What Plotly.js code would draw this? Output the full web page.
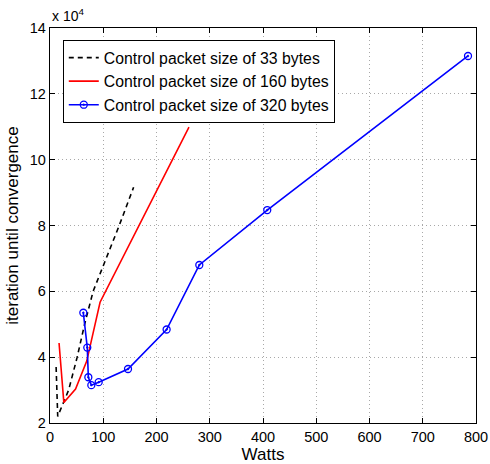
<!DOCTYPE html>
<html>
<head>
<meta charset="utf-8">
<script src="https://cdn.plot.ly/plotly-3.0.1.min.js"></script>
<style>html,body{margin:0;padding:0;background:#fff;}#chart{width:490px;height:464px;}</style>
</head>
<body>
<div id="chart"></div>
<script>
// Data (iterations until convergence vs Watts)
const names = ['Control packet size of 33 bytes', 'Control packet size of 160 bytes', 'Control packet size of 320 bytes'];
const watts33 = [11.5, 14.5, 35, 51, 65, 81, 130, 157];
const iter33 = [37000, 22000, 30000, 40000, 50000, 60000, 80000, 91600];
const watts160 = [17, 26, 48, 69, 94, 261];
const iter160 = [44300, 26200, 30300, 38800, 56700, 109900];
const watts320 = [62.6, 70, 72, 77.6, 91.4, 146.5, 219, 280.4, 408, 785];
const iter320 = [53500, 42900, 33900, 31500, 32400, 36400, 48400, 68000, 84700, 131500];
const xTicks = [0, 100, 200, 300, 400, 500, 600, 700, 800];
const yTickVals = [20000, 40000, 60000, 80000, 100000, 120000, 140000];
const yTickText = ['2', '4', '6', '8', '10', '12', '14'];

const font = 'Liberation Sans, Arial, sans-serif';
const traces = [
  {x: watts33, y: iter33, name: names[0], mode: 'lines',
   line: {color: '#000000', width: 1.6, dash: '5px,4px'}},
  {x: watts160, y: iter160, name: names[1], mode: 'lines',
   line: {color: '#ff0000', width: 1.6}},
  {x: watts320, y: iter320, name: names[2], mode: 'lines+markers',
   line: {color: '#0000ff', width: 1.6},
   marker: {symbol: 'circle-open-dot', size: 7, color: '#0000ff', line: {width: 1.3, color: '#0000ff'}}}
];
const axisCommon = {
  showline: true, linecolor: '#000', linewidth: 1.2, mirror: 'ticks',
  ticks: 'inside', ticklen: 5, tickcolor: '#000', tickwidth: 1,
  showgrid: true, gridcolor: '#a8a8a8', griddash: '1px,3px', gridwidth: 1,
  zeroline: false, tickfont: {family: font, size: 14.5, color: '#000'}
};
const layout = {
  width: 490, height: 464,
  margin: {l: 50, r: 14, t: 28, b: 41},
  paper_bgcolor: '#fff', plot_bgcolor: '#fff',
  font: {family: font, color: '#000'},
  showlegend: true,
  legend: {x: 0.03, y: 0.97, xanchor: 'left', yanchor: 'top',
    bgcolor: '#fff', bordercolor: '#000', borderwidth: 1,
    font: {family: font, size: 15.8, color: '#000'}, tracegroupgap: 0,
    itemwidth: 30},
  xaxis: Object.assign({}, axisCommon, {range: [0, 800], tickvals: xTicks,
    title: {text: 'Watts', font: {family: font, size: 17}, standoff: 2}}),
  yaxis: Object.assign({}, axisCommon, {range: [20000, 140000], tickvals: yTickVals, ticktext: yTickText,
    title: {text: 'iteration until convergence', font: {family: font, size: 17}, standoff: 6}}),
  annotations: [{xref: 'paper', yref: 'paper', x: 0, y: 1, xanchor: 'left', yanchor: 'bottom',
    yshift: 2, text: 'x 10<sup>4</sup>', showarrow: false, font: {family: font, size: 14}}]
};
Plotly.newPlot('chart', traces, layout, {displayModeBar: false, staticPlot: true});
</script>
</body>
</html>
